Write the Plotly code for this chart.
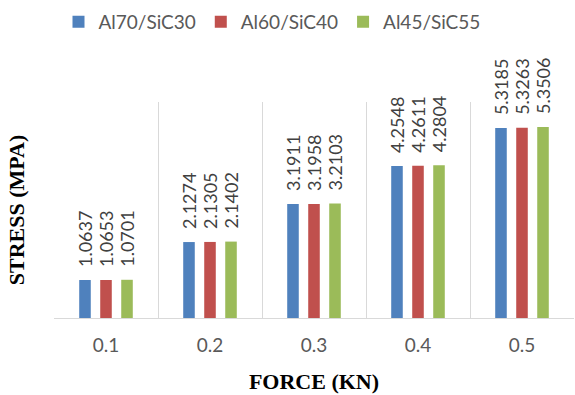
import plotly.graph_objects as go

categories = ["0.1", "0.2", "0.3", "0.4", "0.5"]
series_names = ["Al70/SiC30", "Al60/SiC40", "Al45/SiC55"]
al70_sic30 = [1.0637, 2.1274, 3.1911, 4.2548, 5.3185]
al60_sic40 = [1.0653, 2.1305, 3.1958, 4.2611, 5.3263]
al45_sic55 = [1.0701, 2.1402, 3.2103, 4.2804, 5.3506]
series_values = [al70_sic30, al60_sic40, al45_sic55]
colors = ["#4F81BD", "#C0504D", "#9BBB59"]

W, H = 575, 395
ml, mr, mt, mb = 54, 1, 102, 77
bargap = 0.394
bargroupgap = 0.45

fig = go.Figure()
for name, vals, col in zip(series_names, series_values, colors):
    fig.add_trace(go.Bar(x=categories, y=vals, name=name, marker=dict(color=col, line=dict(width=0))))

# value labels as annotations above bars
plot_w = W - ml - mr
cat_px = plot_w / len(categories)
pitch = cat_px * (1 - bargap) / len(series_names)
for i, vals in enumerate(series_values):
    off = (i - (len(series_names) - 1) / 2) * pitch
    for j, v in enumerate(vals):
        fig.add_annotation(x=j, y=v, xref="x", yref="y", text=f"{v:.4f}", showarrow=False,
                           textangle=-90, xshift=off, yshift=11, yanchor="bottom", xanchor="center",
                           font=dict(family="Lato", size=18, color="#404040"))

fig.update_layout(
    width=W, height=H,
    margin=dict(l=ml, r=mr, t=mt, b=mb, autoexpand=False),
    paper_bgcolor="white", plot_bgcolor="white",
    barmode="group", bargap=bargap, bargroupgap=bargroupgap,
    showlegend=True,
    legend=dict(orientation="h", x=(272 - ml) / plot_w, xanchor="center",
                yref="container", y=1 - 22 / H, yanchor="middle",
                font=dict(family="Lato", size=19, color="#595959"),
                itemclick=False),
    xaxis=dict(type="category", range=[-0.5, 4.5], tickson="boundaries", ticks="",
               automargin=False,
               showgrid=True, gridcolor="#D9D9D9", gridwidth=1.3,
               showline=True, linecolor="#D9D9D9", linewidth=1.3,
               tickfont=dict(family="Lato", size=19, color="#595959"),
               ticklabelstandoff=10,
               title=dict(text="FORCE (KN)", standoff=18,
                          font=dict(family="Liberation Serif", size=22, color="black", weight="bold"))),
    yaxis=dict(range=[0, 6.05], showgrid=False, showticklabels=False, ticks="",
               automargin=False,
               zeroline=False, showline=False,
               title=dict(text="STRESS (MPA)", standoff=22,
                          font=dict(family="Liberation Serif", size=22, color="black", weight="bold"))),
)

fig.write_html("out.html", config={"displayModeBar": False},
               post_script="document.body.style.margin='0';document.body.style.overflow='hidden';")
